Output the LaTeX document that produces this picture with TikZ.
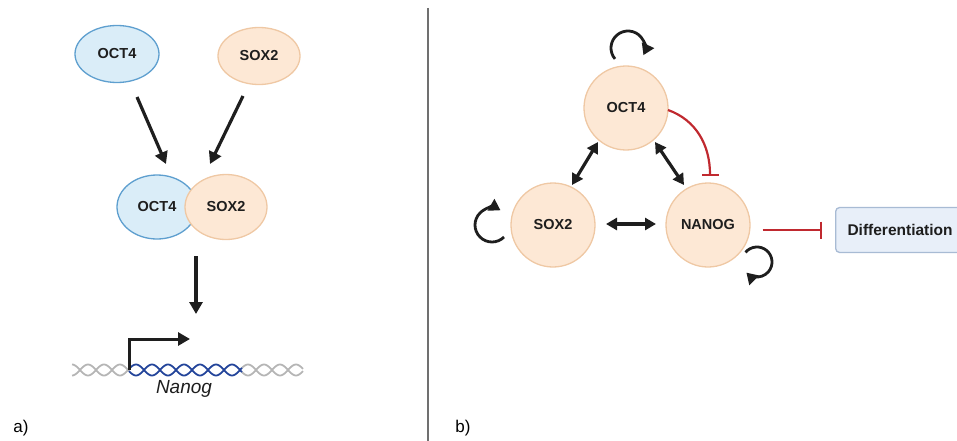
\documentclass[tikz,border=0pt]{standalone}
\usepackage{fontspec}
\setmainfont{Liberation Sans}
\usetikzlibrary{arrows.meta,shapes.geometric}
\definecolor{peachfill}{HTML}{FDE8D5}
\definecolor{peachline}{HTML}{EFC8A4}
\definecolor{bluefill}{HTML}{DAEDF8}
\definecolor{blueline}{HTML}{5E9FCF}
\definecolor{inhred}{HTML}{C0292F}
\definecolor{boxfill}{HTML}{E8EFF9}
\definecolor{boxline}{HTML}{A8BBD4}
\definecolor{dnagray}{HTML}{B5B5B5}
\definecolor{dnablue}{HTML}{23449A}
\definecolor{divider}{HTML}{707070}
\definecolor{ink}{HTML}{1E1E1E}
\begin{document}
\begin{tikzpicture}[x=1pt,y=-1pt,
  lbl/.style={font=\fontsize{14.5}{16}\selectfont\bfseries,text=ink},
  blueprot/.style={ellipse,draw=blueline,fill=bluefill,line width=1.3pt,inner sep=0pt,lbl},
  peachprot/.style={ellipse,draw=peachline,fill=peachfill,line width=1.3pt,inner sep=0pt,lbl},
  tf/.style={circle,draw=peachline,fill=peachfill,line width=1.3pt,minimum size=84pt,inner sep=0pt,lbl},
  act/.style={line width=3.2pt,draw=ink,-{Triangle[length=12pt,width=13pt]}},
  dbl/.style={line width=3.2pt,draw=ink,{Triangle[length=11pt,width=12pt]}-{Triangle[length=11pt,width=12pt]}},
  selfloop/.style={line width=2.8pt,draw=ink,-{Triangle[length=11pt,width=13pt]}},
  inh/.style={line width=2.2pt,draw=inhred,-{Bar[width=17pt,line width=2.2pt]}},
  strand/.style={line width=1.8pt},
  panel/.style={font=\fontsize{17}{19}\selectfont}]
\useasboundingbox (0,0) rectangle (957,441);
\clip (0,0) rectangle (957,441);

% ---------- panel a ----------
\node[blueprot,minimum width=84pt,minimum height=57pt] (oct4a) at (117,54) {OCT4};
\node[peachprot,minimum width=82pt,minimum height=57pt] (sox2a) at (259,56) {SOX2};

\node[blueprot,minimum width=80pt,minimum height=64pt] (oct4c) at (157,207) {OCT4};
\node[peachprot,minimum width=82pt,minimum height=65pt] (sox2c) at (226,207) {SOX2};

\coordinate (inL) at (166,164);
\coordinate (inR) at (210,164);
\draw[act] (137,97) -- (inL);
\draw[act] (243,96) -- (inR);

\coordinate (gene) at (196,314);
\draw[act] (196,256) -- (gene);

% DNA double helix with the Nanog gene highlighted
\foreach \ph in {0,180}{
  \draw[strand,dnagray] plot[domain=72:129,samples=60] (\x,{370+5.5*sin(\x*11.25+\ph)});
  \draw[strand,dnagray] plot[domain=242:303,samples=60] (\x,{370+5.5*sin(\x*11.25+\ph)});
  \draw[strand,dnablue] plot[domain=129:242,samples=120] (\x,{370+5.5*sin(\x*11.25+\ph)});
}
% transcription start site
\coordinate (tss) at (129,370);
\coordinate (tssCorner) at (129,339);
\coordinate (tssEnd) at (190,339);
\draw[line width=3pt,draw=ink,line join=miter,-{Triangle[length=12pt,width=13pt]}] (tss) -- (tssCorner) -- (tssEnd);
\node[font=\fontsize{19}{21}\selectfont\itshape,text=ink] (nanoggene) at (184,389) {Nanog};

\node[panel] (labA) at (21,428) {a)};

% divider
\draw[divider,line width=1.8pt] (428,8) -- (428,441);

% ---------- panel b ----------
\node[tf] (oct4) at (626,108) {OCT4};
\node[tf] (sox2) at (553,225) {SOX2};
\node[tf] (nanog) at (708,225) {NANOG};

\draw[dbl] (598,142) -- (572,185);
\draw[dbl] (655,142) -- (684,185);
\draw[dbl] (606,224) -- (656,224);

% autoregulation loops
\coordinate (loopO) at (628,48);
\coordinate (loopS) at (492,225);
\coordinate (loopN) at (757,262);
\draw[selfloop] (loopO) ++(140:17) arc[start angle=140,end angle=385,radius=17];
\draw[selfloop] (loopS) ++(45:17) arc[start angle=45,end angle=300,radius=17];
\draw[selfloop] (loopN) ++(220:15) arc[start angle=220,end angle=495,radius=15];

% repression
\coordinate (repN) at (710,176);
\draw[inh] (668,110) .. controls (696,120) and (710,145) .. (repN);

\node[draw=boxline,fill=boxfill,line width=1.3pt,rounded corners=4pt,
      minimum width=140pt,minimum height=45pt,anchor=west] (diff) at (835,230) {};
\node[font=\fontsize{15.5}{17}\selectfont\bfseries,text=ink,anchor=west] (difftext) at (844,230) {Differentiation};
\coordinate (diffStop) at (822,230);
\draw[inh] (nanog.east |- diffStop) ++(12,0) -- (diffStop);

\node[panel] (labB) at (463,428) {b)};
\end{tikzpicture}
\end{document}
